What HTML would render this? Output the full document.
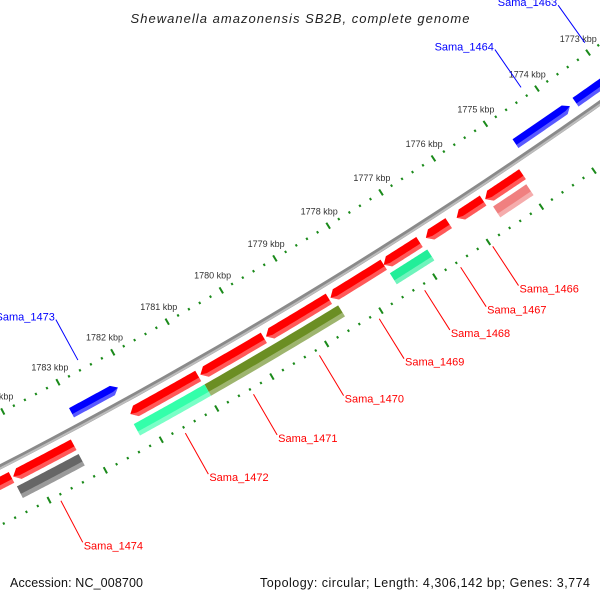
<!DOCTYPE html>
<html><head><meta charset="utf-8"><style>
html,body{margin:0;padding:0;background:#fff;}
svg{display:block;font-family:"Liberation Sans",sans-serif;}
</style></head><body>
<svg id="map" width="600" height="600" viewBox="0 0 600 600" xmlns="http://www.w3.org/2000/svg">
<text x="300" y="23" text-anchor="middle" font-size="13" font-style="italic" fill="#222" textLength="339">Shewanella amazonensis SB2B, complete genome</text>
<text x="10" y="587" font-size="12.5" fill="#111" textLength="133">Accession: NC_008700</text>
<text x="590" y="587" font-size="12.5" fill="#111" text-anchor="end" textLength="330">Topology: circular; Length: 4,306,142 bp; Genes: 3,774</text>
<g id="layer"></g>
</svg>
<script>
// ---- data (kbp) ----
const tickKbp = [1772,1773,1774,1775,1776,1777,1778,1779,1780,1781,1782,1783,1784,1785];
const tickLabels = ["1772 kbp","1773 kbp","1774 kbp","1775 kbp","1776 kbp","1777 kbp","1778 kbp","1779 kbp","1780 kbp","1781 kbp","1782 kbp","1783 kbp","1784 kbp","1785 kbp"];
const fwdGenes = ["Sama_1463","Sama_1464","Sama_1473"];
const fwdStart = [1772.4, 1773.73, 1782.2];
const fwdEnd   = [1773.62, 1774.78, 1783.04];
const revGenes = ["A","B","C","D","E","F","G","H","I","J"];
const revStart = [1774.96,1775.71,1776.36,1776.91,1777.58,1778.6,1779.8,1781.0,1783.25,1784.36];
const revEnd   = [1775.67,1776.21,1776.79,1777.58,1778.57,1779.76,1780.96,1782.23,1784.33,1785.3];
const row2Names = ["pink","green","olive","aqua","grey"];
const row2Start = [1775.0,1776.87,1778.53,1780.98,1783.25];
const row2End   = [1775.63,1777.57,1780.98,1782.26,1784.35];
const row2Colors = ["#f08080","#22ee99","#6b8e23","#33ffaa","#666666"];
const fwdLabelNames = ["Sama_1463","Sama_1464","Sama_1473"];
const fwdLabelKbp = [1772.95,1774.2,1782.55];
const revLabelNames = ["Sama_1466","Sama_1467","Sama_1468","Sama_1469","Sama_1470","Sama_1471","Sama_1472","Sama_1474"];
const revLabelKbp = [1775.98,1776.58,1777.25,1778.09,1779.19,1780.39,1781.62,1783.84];

// ---- geometry ----
function circ(p1,p2,p3){
  const [ax,ay]=p1,[bx,by]=p2,[cx,cy]=p3;
  const d=2*(ax*(by-cy)+bx*(cy-ay)+cx*(ay-by));
  const ux=((ax*ax+ay*ay)*(by-cy)+(bx*bx+by*by)*(cy-ay)+(cx*cx+cy*cy)*(ay-by))/d;
  const uy=((ax*ax+ay*ay)*(cx-bx)+(bx*bx+by*by)*(ax-cx)+(cx*cx+cy*cy)*(bx-ax))/d;
  return [ux,uy,Math.hypot(ax-ux,ay-uy)];
}
const [CX,CY,R0]=circ([0,467],[383,248],[600,103]);
const angA=Math.atan2(90-CY,538-CX), angB=Math.atan2(386-CY,60-CX);
function ang(k){return angA+(k-1774)*(angB-angA)/9;}
// positive offset = toward upper-left
function pt(k,off){const a=ang(k),r=R0-off;return [CX+r*Math.cos(a),CY+r*Math.sin(a)];}
const NS="http://www.w3.org/2000/svg";
const layer=document.getElementById('layer');
function mk(tag,attrs){const e=document.createElementNS(NS,tag);for(const k in attrs)e.setAttribute(k,attrs[k]);layer.appendChild(e);return e;}
function arcPts(k1,k2,off){const n=30,o=[];for(let i=0;i<=n;i++){o.push(pt(k1+(k2-k1)*i/n,off));}return o;}
function poly(points){return points.map(p=>p[0].toFixed(2)+","+p[1].toFixed(2)).join(" ");}
const arrowK=0.1;
function feature(k1,k2,o1,o2,dir,color,name){
  let a1=k1,a2=k2;
  if(dir===1)a2=k2-arrowK; if(dir===-1)a1=k1+arrowK;
  const mid=(o1+o2)/2;
  let pts=arcPts(a1,a2,o2);
  if(dir===1)pts.push(pt(k2,mid));
  pts=pts.concat(arcPts(a1,a2,o1).reverse());
  if(dir===-1)pts.push(pt(k1,mid));
  const g=mk('polygon',{points:poly(pts),fill:color});
  
  
  const lo=Math.min(o1,o2),hi=Math.max(o1,o2);
  const inner=lo+(hi-lo)*0.35;
  let p2=arcPts(a1,a2,inner);
  if(dir===1)p2.push(pt(k2,mid));
  p2=p2.concat(arcPts(a1,a2,lo).reverse());
  if(dir===-1)p2.push(pt(k1,mid));
  const s=mk('polygon',{points:poly(p2),fill:'#fff','fill-opacity':0.35});
  
  
}
const bb=mk('polyline',{points:poly(arcPts(1771,1786,0)),fill:'none',stroke:'#8a8a8a','stroke-width':5});


const bb2=mk('polyline',{points:poly(arcPts(1771,1786,-1.3)),fill:'none',stroke:'#bdbdbd','stroke-width':2});


const RO=48,RI=-52;
tickKbp.forEach((k,i)=>{
  [RO,RI].forEach(r=>{
    const a=pt(k,r-3.5),b=pt(k,r+3.5);
    const t=mk('line',{x1:a[0],y1:a[1],x2:b[0],y2:b[1],stroke:'#1a8a1a','stroke-width':2});
    
    
    for(let j=1;j<5;j++){
      const kk=k+j*0.2,c=pt(kk,r-1.2),d=pt(kk,r+1.2);
      const m=mk('line',{x1:c[0],y1:c[1],x2:d[0],y2:d[1],stroke:'#1a8a1a','stroke-width':2});
      
      
    }
  });
  const lp=pt(k,RO+17);
  const tl=mk('text',{x:lp[0],y:lp[1]+3,'text-anchor':'middle','font-size':9,fill:'#333'});
  tl.textContent=tickLabels[i];
  
  
});
fwdGenes.forEach((n,i)=>feature(fwdStart[i],fwdEnd[i],9.5,20,-1,'#0000ff','gene-'+n));
revGenes.forEach((n,i)=>feature(revStart[i],revEnd[i],-8.5,-20.5,1,'#ff0000','gene-rev-'+n));
row2Names.forEach((n,i)=>feature(row2Start[i],row2End[i],-25,-38,0,row2Colors[i],'gene-row2-'+n));
fwdLabelNames.forEach((n,i)=>{
  const a=pt(fwdLabelKbp[i],58),b=pt(fwdLabelKbp[i],104);
  const l=mk('line',{x1:a[0],y1:a[1],x2:b[0],y2:b[1],stroke:'#0000ff','stroke-width':1});
  
  
  const t=mk('text',{x:b[0]-1,y:b[1]+1,'text-anchor':'end','font-size':11,fill:'#0000ff'});
  t.textContent=n;
  
  
});
revLabelNames.forEach((n,i)=>{
  const a=pt(revLabelKbp[i],-58),b=pt(revLabelKbp[i],-105);
  const l=mk('line',{x1:a[0],y1:a[1],x2:b[0],y2:b[1],stroke:'#ff0000','stroke-width':1});
  
  
  const t=mk('text',{x:b[0]+1,y:b[1]+7,'text-anchor':'start','font-size':11,fill:'#ff0000'});
  t.textContent=n;
  
  
});
</script>
</body></html>
